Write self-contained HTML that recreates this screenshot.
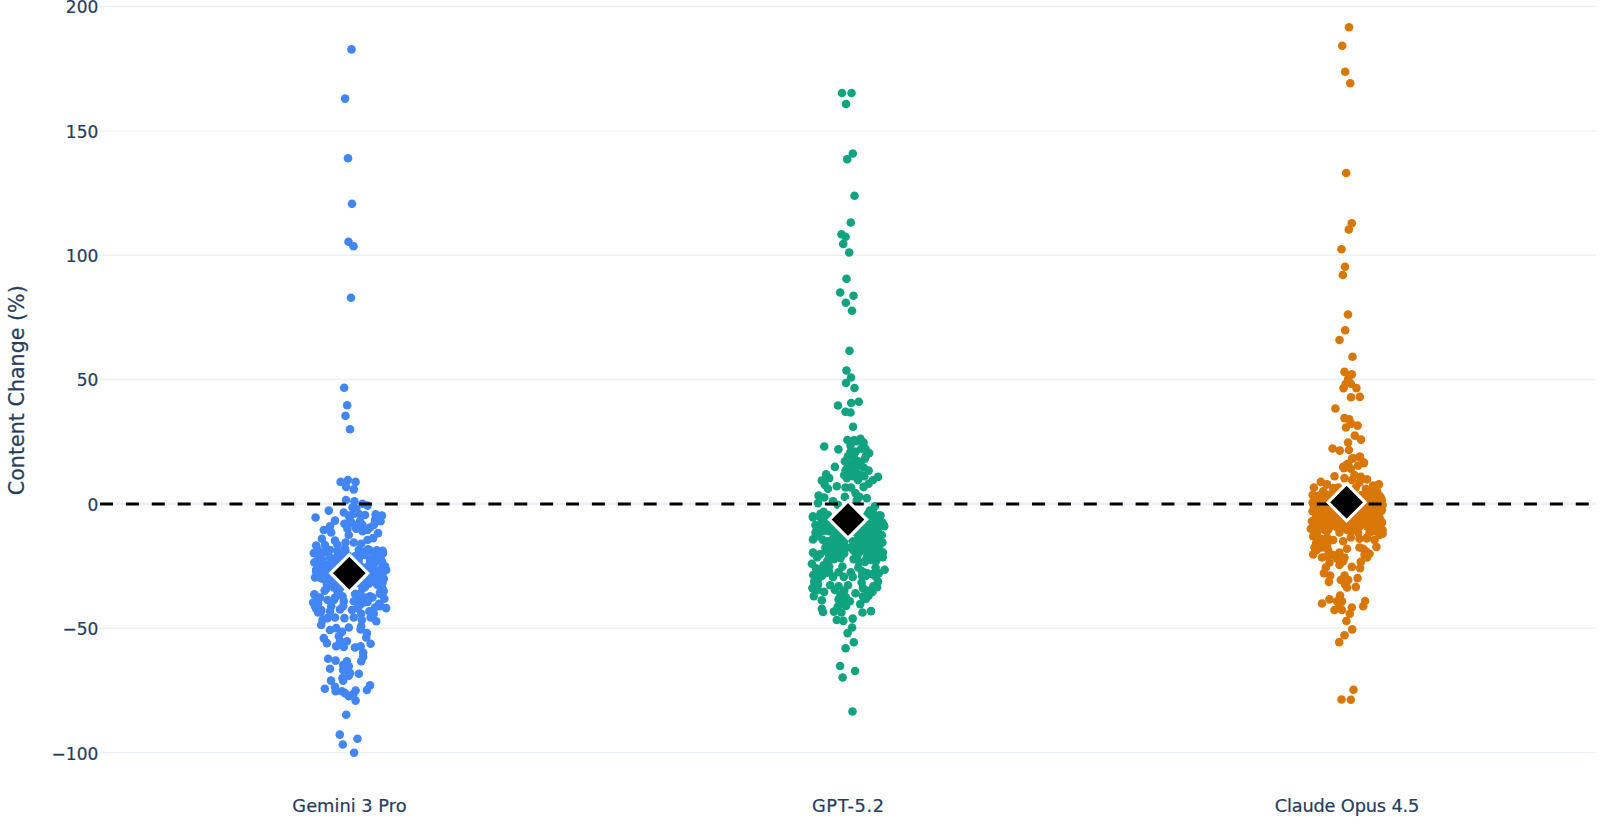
<!DOCTYPE html>
<html><head><meta charset="utf-8"><title>Content Change (%)</title>
<style>
html,body{margin:0;padding:0;background:#fff;}
body{width:1600px;height:825px;overflow:hidden;}
svg{display:block}
text{font-family:"DejaVu Sans","Liberation Sans",sans-serif;fill:#263c5f;stroke:#263c5f;stroke-width:0.2px;}
</style></head><body>
<svg width="1600" height="825" viewBox="0 0 1600 825">
<rect width="1600" height="825" fill="#fff"/>

<g stroke="#EBF0F8" stroke-width="1.45">
<line x1="100" x2="1596" y1="6.50" y2="6.50"/>
<line x1="100" x2="1596" y1="130.85" y2="130.85"/>
<line x1="100" x2="1596" y1="255.20" y2="255.20"/>
<line x1="100" x2="1596" y1="379.55" y2="379.55"/>
<line x1="100" x2="1596" y1="628.25" y2="628.25"/>
<line x1="100" x2="1596" y1="752.60" y2="752.60"/>
</g>
<line x1="100" x2="1596" y1="503.90" y2="503.90" stroke="#EBF0F8" stroke-width="2.9"/>
<g fill="#4285F4">
<circle cx="351.5" cy="49.4" r="4.3"/>
<circle cx="345.1" cy="98.6" r="4.3"/>
<circle cx="348.0" cy="158.3" r="4.3"/>
<circle cx="352.0" cy="203.8" r="4.3"/>
<circle cx="348.5" cy="241.8" r="4.3"/>
<circle cx="353.5" cy="246.2" r="4.3"/>
<circle cx="351.0" cy="297.8" r="4.3"/>
<circle cx="344.2" cy="387.8" r="4.3"/>
<circle cx="347.2" cy="405.2" r="4.3"/>
<circle cx="345.5" cy="415.8" r="4.3"/>
<circle cx="350.0" cy="429.2" r="4.3"/>
<circle cx="340.6" cy="481.9" r="4.3"/>
<circle cx="347.9" cy="480.0" r="4.3"/>
<circle cx="355.6" cy="481.9" r="4.3"/>
<circle cx="346.2" cy="486.9" r="4.3"/>
<circle cx="353.8" cy="489.4" r="4.3"/>
<circle cx="346.0" cy="500.0" r="4.3"/>
<circle cx="354.4" cy="501.2" r="4.3"/>
<circle cx="362.5" cy="503.8" r="4.3"/>
<circle cx="367.5" cy="505.6" r="4.3"/>
<circle cx="328.8" cy="510.6" r="4.3"/>
<circle cx="315.6" cy="517.5" r="4.3"/>
<circle cx="335.0" cy="520.6" r="4.3"/>
<circle cx="343.8" cy="512.5" r="4.3"/>
<circle cx="348.8" cy="515.6" r="4.3"/>
<circle cx="356.2" cy="508.8" r="4.3"/>
<circle cx="358.8" cy="513.8" r="4.3"/>
<circle cx="365.0" cy="515.0" r="4.3"/>
<circle cx="375.6" cy="514.4" r="4.3"/>
<circle cx="381.9" cy="515.6" r="4.3"/>
<circle cx="380.6" cy="521.2" r="4.3"/>
<circle cx="375.0" cy="520.0" r="4.3"/>
<circle cx="344.4" cy="523.8" r="4.3"/>
<circle cx="351.2" cy="522.5" r="4.3"/>
<circle cx="360.0" cy="521.2" r="4.3"/>
<circle cx="330.0" cy="526.2" r="4.3"/>
<circle cx="323.8" cy="530.0" r="4.3"/>
<circle cx="331.2" cy="532.5" r="4.3"/>
<circle cx="347.5" cy="528.8" r="4.3"/>
<circle cx="348.8" cy="535.0" r="4.3"/>
<circle cx="356.2" cy="528.8" r="4.3"/>
<circle cx="362.5" cy="531.2" r="4.3"/>
<circle cx="370.0" cy="527.5" r="4.3"/>
<circle cx="378.1" cy="533.1" r="4.3"/>
<circle cx="373.8" cy="525.0" r="4.3"/>
<circle cx="321.9" cy="538.8" r="4.3"/>
<circle cx="335.0" cy="540.6" r="4.3"/>
<circle cx="345.6" cy="542.5" r="4.3"/>
<circle cx="353.8" cy="542.5" r="4.3"/>
<circle cx="373.1" cy="538.1" r="4.3"/>
<circle cx="367.5" cy="540.0" r="4.3"/>
<circle cx="361.2" cy="543.8" r="4.3"/>
<circle cx="316.2" cy="545.6" r="4.3"/>
<circle cx="325.0" cy="545.0" r="4.3"/>
<circle cx="318.1" cy="550.0" r="4.3"/>
<circle cx="313.8" cy="553.1" r="4.3"/>
<circle cx="330.0" cy="550.0" r="4.3"/>
<circle cx="337.5" cy="551.2" r="4.3"/>
<circle cx="345.0" cy="548.8" r="4.3"/>
<circle cx="358.8" cy="550.0" r="4.3"/>
<circle cx="368.1" cy="549.4" r="4.3"/>
<circle cx="383.1" cy="553.1" r="4.3"/>
<circle cx="376.2" cy="555.0" r="4.3"/>
<circle cx="360.0" cy="556.2" r="4.3"/>
<circle cx="314.4" cy="562.5" r="4.3"/>
<circle cx="322.5" cy="560.0" r="4.3"/>
<circle cx="330.0" cy="557.5" r="4.3"/>
<circle cx="320.0" cy="567.5" r="4.3"/>
<circle cx="327.5" cy="565.0" r="4.3"/>
<circle cx="335.0" cy="561.2" r="4.3"/>
<circle cx="370.0" cy="560.0" r="4.3"/>
<circle cx="381.2" cy="560.0" r="4.3"/>
<circle cx="385.0" cy="566.2" r="4.3"/>
<circle cx="372.5" cy="568.8" r="4.3"/>
<circle cx="380.0" cy="570.0" r="4.3"/>
<circle cx="316.2" cy="570.0" r="4.3"/>
<circle cx="352.5" cy="507.5" r="4.3"/>
<circle cx="350.0" cy="520.0" r="4.3"/>
<circle cx="355.0" cy="525.0" r="4.3"/>
<circle cx="362.5" cy="525.0" r="4.3"/>
<circle cx="367.5" cy="530.0" r="4.3"/>
<circle cx="353.8" cy="513.8" r="4.3"/>
<circle cx="323.8" cy="552.5" r="4.3"/>
<circle cx="320.0" cy="557.5" r="4.3"/>
<circle cx="325.0" cy="570.0" r="4.3"/>
<circle cx="332.5" cy="567.5" r="4.3"/>
<circle cx="337.5" cy="557.5" r="4.3"/>
<circle cx="340.0" cy="562.5" r="4.3"/>
<circle cx="375.0" cy="562.5" r="4.3"/>
<circle cx="386.2" cy="570.0" r="4.3"/>
<circle cx="337.5" cy="545.0" r="4.3"/>
<circle cx="365.0" cy="555.0" r="4.3"/>
<circle cx="315.0" cy="562.5" r="4.3"/>
<circle cx="322.5" cy="563.8" r="4.3"/>
<circle cx="316.2" cy="570.0" r="4.3"/>
<circle cx="323.8" cy="571.2" r="4.3"/>
<circle cx="315.0" cy="577.5" r="4.3"/>
<circle cx="322.5" cy="578.8" r="4.3"/>
<circle cx="328.8" cy="576.2" r="4.3"/>
<circle cx="326.9" cy="583.8" r="4.3"/>
<circle cx="326.2" cy="588.8" r="4.3"/>
<circle cx="333.8" cy="587.5" r="4.3"/>
<circle cx="337.5" cy="591.2" r="4.3"/>
<circle cx="330.0" cy="567.5" r="4.3"/>
<circle cx="331.2" cy="582.5" r="4.3"/>
<circle cx="370.0" cy="562.5" r="4.3"/>
<circle cx="382.5" cy="563.8" r="4.3"/>
<circle cx="384.4" cy="567.5" r="4.3"/>
<circle cx="375.0" cy="570.0" r="4.3"/>
<circle cx="382.5" cy="573.8" r="4.3"/>
<circle cx="383.8" cy="578.8" r="4.3"/>
<circle cx="375.0" cy="578.8" r="4.3"/>
<circle cx="368.8" cy="583.8" r="4.3"/>
<circle cx="377.5" cy="585.0" r="4.3"/>
<circle cx="382.5" cy="588.8" r="4.3"/>
<circle cx="365.0" cy="586.9" r="4.3"/>
<circle cx="380.0" cy="592.5" r="4.3"/>
<circle cx="370.0" cy="596.2" r="4.3"/>
<circle cx="368.8" cy="575.0" r="4.3"/>
<circle cx="362.5" cy="583.8" r="4.3"/>
<circle cx="314.4" cy="594.4" r="4.3"/>
<circle cx="320.0" cy="597.5" r="4.3"/>
<circle cx="313.1" cy="602.5" r="4.3"/>
<circle cx="318.1" cy="603.8" r="4.3"/>
<circle cx="327.5" cy="600.0" r="4.3"/>
<circle cx="335.0" cy="597.5" r="4.3"/>
<circle cx="342.5" cy="596.2" r="4.3"/>
<circle cx="343.8" cy="601.2" r="4.3"/>
<circle cx="355.0" cy="593.8" r="4.3"/>
<circle cx="357.5" cy="598.8" r="4.3"/>
<circle cx="353.8" cy="601.2" r="4.3"/>
<circle cx="365.0" cy="597.5" r="4.3"/>
<circle cx="372.5" cy="597.5" r="4.3"/>
<circle cx="380.0" cy="593.8" r="4.3"/>
<circle cx="384.4" cy="598.8" r="4.3"/>
<circle cx="383.8" cy="591.2" r="4.3"/>
<circle cx="316.2" cy="608.8" r="4.3"/>
<circle cx="321.2" cy="610.0" r="4.3"/>
<circle cx="318.1" cy="612.5" r="4.3"/>
<circle cx="331.2" cy="606.2" r="4.3"/>
<circle cx="330.0" cy="611.2" r="4.3"/>
<circle cx="340.0" cy="609.4" r="4.3"/>
<circle cx="343.1" cy="606.2" r="4.3"/>
<circle cx="351.9" cy="610.0" r="4.3"/>
<circle cx="360.0" cy="605.0" r="4.3"/>
<circle cx="361.2" cy="613.8" r="4.3"/>
<circle cx="369.4" cy="611.2" r="4.3"/>
<circle cx="375.0" cy="607.5" r="4.3"/>
<circle cx="380.6" cy="606.2" r="4.3"/>
<circle cx="386.2" cy="608.1" r="4.3"/>
<circle cx="373.8" cy="613.8" r="4.3"/>
<circle cx="322.5" cy="620.0" r="4.3"/>
<circle cx="327.5" cy="618.1" r="4.3"/>
<circle cx="335.0" cy="617.5" r="4.3"/>
<circle cx="344.4" cy="618.1" r="4.3"/>
<circle cx="353.8" cy="617.5" r="4.3"/>
<circle cx="361.9" cy="620.0" r="4.3"/>
<circle cx="370.6" cy="617.5" r="4.3"/>
<circle cx="376.2" cy="621.2" r="4.3"/>
<circle cx="321.2" cy="625.0" r="4.3"/>
<circle cx="361.2" cy="626.2" r="4.3"/>
<circle cx="330.0" cy="630.0" r="4.3"/>
<circle cx="336.2" cy="628.1" r="4.3"/>
<circle cx="341.9" cy="631.9" r="4.3"/>
<circle cx="348.8" cy="627.5" r="4.3"/>
<circle cx="360.6" cy="629.4" r="4.3"/>
<circle cx="366.9" cy="633.1" r="4.3"/>
<circle cx="338.8" cy="636.2" r="4.3"/>
<circle cx="366.2" cy="637.5" r="4.3"/>
<circle cx="323.8" cy="638.1" r="4.3"/>
<circle cx="326.9" cy="643.1" r="4.3"/>
<circle cx="340.0" cy="641.2" r="4.3"/>
<circle cx="346.9" cy="641.2" r="4.3"/>
<circle cx="336.2" cy="646.2" r="4.3"/>
<circle cx="343.8" cy="646.9" r="4.3"/>
<circle cx="370.6" cy="643.8" r="4.3"/>
<circle cx="355.0" cy="647.5" r="4.3"/>
<circle cx="360.6" cy="646.2" r="4.3"/>
<circle cx="363.1" cy="652.5" r="4.3"/>
<circle cx="336.2" cy="582.5" r="4.3"/>
<circle cx="340.0" cy="587.5" r="4.3"/>
<circle cx="332.5" cy="576.2" r="4.3"/>
<circle cx="362.5" cy="588.8" r="4.3"/>
<circle cx="370.0" cy="578.8" r="4.3"/>
<circle cx="376.2" cy="573.8" r="4.3"/>
<circle cx="360.0" cy="593.8" r="4.3"/>
<circle cx="363.8" cy="602.5" r="4.3"/>
<circle cx="357.5" cy="608.1" r="4.3"/>
<circle cx="367.5" cy="601.9" r="4.3"/>
<circle cx="328.1" cy="658.8" r="4.3"/>
<circle cx="335.6" cy="660.6" r="4.3"/>
<circle cx="346.9" cy="661.2" r="4.3"/>
<circle cx="343.1" cy="665.0" r="4.3"/>
<circle cx="348.8" cy="666.2" r="4.3"/>
<circle cx="361.2" cy="661.2" r="4.3"/>
<circle cx="363.1" cy="656.9" r="4.3"/>
<circle cx="330.0" cy="668.8" r="4.3"/>
<circle cx="343.1" cy="670.0" r="4.3"/>
<circle cx="350.0" cy="673.1" r="4.3"/>
<circle cx="358.8" cy="673.8" r="4.3"/>
<circle cx="342.5" cy="678.1" r="4.3"/>
<circle cx="343.1" cy="680.6" r="4.3"/>
<circle cx="348.8" cy="675.6" r="4.3"/>
<circle cx="331.0" cy="680.6" r="4.3"/>
<circle cx="324.8" cy="688.8" r="4.3"/>
<circle cx="335.0" cy="686.9" r="4.3"/>
<circle cx="335.6" cy="691.2" r="4.3"/>
<circle cx="341.9" cy="691.2" r="4.3"/>
<circle cx="345.0" cy="693.1" r="4.3"/>
<circle cx="348.8" cy="696.2" r="4.3"/>
<circle cx="355.6" cy="690.6" r="4.3"/>
<circle cx="353.1" cy="694.4" r="4.3"/>
<circle cx="355.6" cy="700.6" r="4.3"/>
<circle cx="366.9" cy="690.0" r="4.3"/>
<circle cx="370.0" cy="685.4" r="4.3"/>
<circle cx="346.2" cy="714.8" r="4.3"/>
<circle cx="339.8" cy="734.6" r="4.3"/>
<circle cx="357.5" cy="738.8" r="4.3"/>
<circle cx="342.8" cy="744.5" r="4.3"/>
<circle cx="354.1" cy="752.8" r="4.3"/>
<circle cx="318.1" cy="600.0" r="4.3"/>
<circle cx="315.2" cy="606.6" r="4.3"/>
<circle cx="320.9" cy="612.2" r="4.3"/>
<circle cx="334.0" cy="600.0" r="4.3"/>
<circle cx="339.6" cy="588.8" r="4.3"/>
<circle cx="324.6" cy="590.6" r="4.3"/>
<circle cx="381.8" cy="594.4" r="4.3"/>
<circle cx="379.0" cy="603.8" r="4.3"/>
<circle cx="328.1" cy="550.8" r="4.3"/>
<circle cx="345.3" cy="550.3" r="4.3"/>
<circle cx="364.2" cy="551.7" r="4.3"/>
<circle cx="370.1" cy="550.8" r="4.3"/>
<circle cx="376.8" cy="550.3" r="4.3"/>
<circle cx="382.6" cy="550.7" r="4.3"/>
<circle cx="318.4" cy="555.6" r="4.3"/>
<circle cx="337.2" cy="556.0" r="4.3"/>
<circle cx="343.1" cy="555.5" r="4.3"/>
<circle cx="348.3" cy="555.7" r="4.3"/>
<circle cx="355.3" cy="556.1" r="4.3"/>
<circle cx="373.5" cy="556.5" r="4.3"/>
<circle cx="378.6" cy="556.3" r="4.3"/>
<circle cx="316.0" cy="562.0" r="4.3"/>
<circle cx="333.9" cy="561.8" r="4.3"/>
<circle cx="339.4" cy="561.4" r="4.3"/>
<circle cx="345.3" cy="561.7" r="4.3"/>
<circle cx="352.4" cy="561.5" r="4.3"/>
<circle cx="358.6" cy="561.1" r="4.3"/>
<circle cx="382.0" cy="561.7" r="4.3"/>
<circle cx="318.3" cy="566.9" r="4.3"/>
<circle cx="325.2" cy="567.4" r="4.3"/>
<circle cx="331.5" cy="566.2" r="4.3"/>
<circle cx="336.8" cy="566.9" r="4.3"/>
<circle cx="342.2" cy="566.5" r="4.3"/>
<circle cx="348.5" cy="566.0" r="4.3"/>
<circle cx="354.3" cy="567.0" r="4.3"/>
<circle cx="360.4" cy="566.2" r="4.3"/>
<circle cx="366.8" cy="567.2" r="4.3"/>
<circle cx="316.5" cy="572.4" r="4.3"/>
<circle cx="321.6" cy="571.6" r="4.3"/>
<circle cx="327.8" cy="572.4" r="4.3"/>
<circle cx="334.7" cy="571.2" r="4.3"/>
<circle cx="339.5" cy="571.4" r="4.3"/>
<circle cx="345.6" cy="571.8" r="4.3"/>
<circle cx="352.1" cy="571.4" r="4.3"/>
<circle cx="357.2" cy="571.7" r="4.3"/>
<circle cx="363.8" cy="571.9" r="4.3"/>
<circle cx="370.7" cy="572.1" r="4.3"/>
<circle cx="376.0" cy="572.0" r="4.3"/>
<circle cx="382.3" cy="571.1" r="4.3"/>
<circle cx="319.6" cy="577.4" r="4.3"/>
<circle cx="325.6" cy="577.5" r="4.3"/>
<circle cx="330.8" cy="576.8" r="4.3"/>
<circle cx="336.4" cy="577.2" r="4.3"/>
<circle cx="342.3" cy="576.3" r="4.3"/>
<circle cx="348.5" cy="576.4" r="4.3"/>
<circle cx="354.7" cy="576.3" r="4.3"/>
<circle cx="360.2" cy="576.4" r="4.3"/>
<circle cx="366.4" cy="576.8" r="4.3"/>
<circle cx="372.2" cy="577.6" r="4.3"/>
<circle cx="379.2" cy="576.4" r="4.3"/>
<circle cx="328.6" cy="583.0" r="4.3"/>
<circle cx="333.9" cy="582.2" r="4.3"/>
<circle cx="339.3" cy="581.5" r="4.3"/>
<circle cx="345.7" cy="581.8" r="4.3"/>
<circle cx="352.5" cy="581.6" r="4.3"/>
<circle cx="357.2" cy="582.9" r="4.3"/>
<circle cx="364.0" cy="581.6" r="4.3"/>
<circle cx="370.1" cy="581.4" r="4.3"/>
<circle cx="376.0" cy="582.9" r="4.3"/>
<circle cx="382.6" cy="582.5" r="4.3"/>
</g>
<g fill="#10A37F">
<circle cx="842.0" cy="93.0" r="4.3"/>
<circle cx="851.5" cy="93.0" r="4.3"/>
<circle cx="846.0" cy="104.0" r="4.3"/>
<circle cx="852.8" cy="153.5" r="4.3"/>
<circle cx="847.2" cy="159.2" r="4.3"/>
<circle cx="854.5" cy="195.8" r="4.3"/>
<circle cx="850.8" cy="222.5" r="4.3"/>
<circle cx="841.5" cy="234.2" r="4.3"/>
<circle cx="845.5" cy="236.8" r="4.3"/>
<circle cx="843.2" cy="244.0" r="4.3"/>
<circle cx="849.2" cy="252.5" r="4.3"/>
<circle cx="846.5" cy="278.8" r="4.3"/>
<circle cx="840.2" cy="292.5" r="4.3"/>
<circle cx="853.5" cy="295.8" r="4.3"/>
<circle cx="845.8" cy="302.8" r="4.3"/>
<circle cx="852.0" cy="310.8" r="4.3"/>
<circle cx="849.5" cy="350.8" r="4.3"/>
<circle cx="846.5" cy="370.5" r="4.3"/>
<circle cx="851.0" cy="377.5" r="4.3"/>
<circle cx="846.0" cy="383.0" r="4.3"/>
<circle cx="854.5" cy="388.0" r="4.3"/>
<circle cx="838.0" cy="405.5" r="4.3"/>
<circle cx="851.2" cy="403.0" r="4.3"/>
<circle cx="858.8" cy="401.8" r="4.3"/>
<circle cx="845.5" cy="411.8" r="4.3"/>
<circle cx="850.5" cy="412.5" r="4.3"/>
<circle cx="853.0" cy="426.8" r="4.3"/>
<circle cx="847.4" cy="440.0" r="4.3"/>
<circle cx="854.2" cy="440.0" r="4.3"/>
<circle cx="860.5" cy="438.8" r="4.3"/>
<circle cx="863.6" cy="442.5" r="4.3"/>
<circle cx="824.2" cy="446.5" r="4.3"/>
<circle cx="838.4" cy="449.4" r="4.3"/>
<circle cx="850.5" cy="445.6" r="4.3"/>
<circle cx="861.1" cy="448.8" r="4.3"/>
<circle cx="865.5" cy="448.8" r="4.3"/>
<circle cx="869.2" cy="453.1" r="4.3"/>
<circle cx="850.5" cy="451.9" r="4.3"/>
<circle cx="848.0" cy="456.2" r="4.3"/>
<circle cx="854.2" cy="458.1" r="4.3"/>
<circle cx="864.9" cy="458.8" r="4.3"/>
<circle cx="844.9" cy="461.2" r="4.3"/>
<circle cx="851.8" cy="463.8" r="4.3"/>
<circle cx="834.9" cy="466.9" r="4.3"/>
<circle cx="856.8" cy="466.2" r="4.3"/>
<circle cx="863.6" cy="467.5" r="4.3"/>
<circle cx="868.6" cy="470.6" r="4.3"/>
<circle cx="845.5" cy="470.6" r="4.3"/>
<circle cx="860.5" cy="475.0" r="4.3"/>
<circle cx="846.8" cy="478.1" r="4.3"/>
<circle cx="853.0" cy="476.2" r="4.3"/>
<circle cx="826.1" cy="474.4" r="4.3"/>
<circle cx="829.2" cy="478.1" r="4.3"/>
<circle cx="821.8" cy="480.6" r="4.3"/>
<circle cx="824.9" cy="485.0" r="4.3"/>
<circle cx="828.0" cy="488.8" r="4.3"/>
<circle cx="836.8" cy="486.2" r="4.3"/>
<circle cx="845.5" cy="487.5" r="4.3"/>
<circle cx="851.1" cy="487.5" r="4.3"/>
<circle cx="878.0" cy="476.9" r="4.3"/>
<circle cx="873.0" cy="480.0" r="4.3"/>
<circle cx="868.6" cy="483.8" r="4.3"/>
<circle cx="863.6" cy="486.9" r="4.3"/>
<circle cx="818.6" cy="495.6" r="4.3"/>
<circle cx="824.2" cy="497.5" r="4.3"/>
<circle cx="818.0" cy="503.1" r="4.3"/>
<circle cx="833.0" cy="501.2" r="4.3"/>
<circle cx="844.9" cy="496.9" r="4.3"/>
<circle cx="855.5" cy="493.1" r="4.3"/>
<circle cx="859.2" cy="496.9" r="4.3"/>
<circle cx="866.8" cy="498.1" r="4.3"/>
<circle cx="856.8" cy="500.0" r="4.3"/>
<circle cx="838.0" cy="505.0" r="4.3"/>
<circle cx="874.9" cy="506.2" r="4.3"/>
<circle cx="869.9" cy="510.6" r="4.3"/>
<circle cx="880.5" cy="515.6" r="4.3"/>
<circle cx="878.0" cy="520.0" r="4.3"/>
<circle cx="873.0" cy="517.5" r="4.3"/>
<circle cx="868.6" cy="523.8" r="4.3"/>
<circle cx="883.6" cy="525.0" r="4.3"/>
<circle cx="823.6" cy="511.9" r="4.3"/>
<circle cx="813.0" cy="517.5" r="4.3"/>
<circle cx="820.5" cy="517.5" r="4.3"/>
<circle cx="828.0" cy="515.0" r="4.3"/>
<circle cx="815.5" cy="525.0" r="4.3"/>
<circle cx="823.0" cy="523.8" r="4.3"/>
<circle cx="829.2" cy="525.0" r="4.3"/>
<circle cx="855.5" cy="451.9" r="4.3"/>
<circle cx="858.0" cy="461.2" r="4.3"/>
<circle cx="860.5" cy="463.1" r="4.3"/>
<circle cx="853.0" cy="468.1" r="4.3"/>
<circle cx="849.2" cy="473.1" r="4.3"/>
<circle cx="864.2" cy="476.2" r="4.3"/>
<circle cx="858.0" cy="480.0" r="4.3"/>
<circle cx="856.8" cy="441.2" r="4.3"/>
<circle cx="866.1" cy="455.6" r="4.3"/>
<circle cx="848.0" cy="466.2" r="4.3"/>
<circle cx="844.2" cy="475.0" r="4.3"/>
<circle cx="856.8" cy="473.1" r="4.3"/>
<circle cx="813.0" cy="516.2" r="4.3"/>
<circle cx="820.5" cy="513.8" r="4.3"/>
<circle cx="825.5" cy="517.5" r="4.3"/>
<circle cx="873.0" cy="512.5" r="4.3"/>
<circle cx="879.2" cy="515.6" r="4.3"/>
<circle cx="868.0" cy="513.8" r="4.3"/>
<circle cx="816.1" cy="526.2" r="4.3"/>
<circle cx="821.8" cy="522.5" r="4.3"/>
<circle cx="828.0" cy="526.2" r="4.3"/>
<circle cx="875.5" cy="520.0" r="4.3"/>
<circle cx="882.4" cy="522.5" r="4.3"/>
<circle cx="884.2" cy="526.2" r="4.3"/>
<circle cx="873.0" cy="526.2" r="4.3"/>
<circle cx="868.0" cy="528.8" r="4.3"/>
<circle cx="815.5" cy="532.5" r="4.3"/>
<circle cx="823.0" cy="531.2" r="4.3"/>
<circle cx="829.2" cy="531.2" r="4.3"/>
<circle cx="834.2" cy="532.5" r="4.3"/>
<circle cx="866.8" cy="535.0" r="4.3"/>
<circle cx="874.2" cy="533.8" r="4.3"/>
<circle cx="881.8" cy="535.0" r="4.3"/>
<circle cx="860.5" cy="537.5" r="4.3"/>
<circle cx="813.0" cy="539.4" r="4.3"/>
<circle cx="823.0" cy="540.0" r="4.3"/>
<circle cx="828.0" cy="541.2" r="4.3"/>
<circle cx="834.2" cy="540.0" r="4.3"/>
<circle cx="840.5" cy="541.2" r="4.3"/>
<circle cx="860.5" cy="542.5" r="4.3"/>
<circle cx="868.0" cy="541.2" r="4.3"/>
<circle cx="875.5" cy="540.0" r="4.3"/>
<circle cx="882.4" cy="542.5" r="4.3"/>
<circle cx="854.2" cy="542.5" r="4.3"/>
<circle cx="825.5" cy="547.5" r="4.3"/>
<circle cx="833.0" cy="547.5" r="4.3"/>
<circle cx="840.5" cy="548.8" r="4.3"/>
<circle cx="846.8" cy="547.5" r="4.3"/>
<circle cx="853.0" cy="550.0" r="4.3"/>
<circle cx="864.2" cy="547.5" r="4.3"/>
<circle cx="871.8" cy="547.5" r="4.3"/>
<circle cx="879.2" cy="546.2" r="4.3"/>
<circle cx="883.0" cy="552.5" r="4.3"/>
<circle cx="813.0" cy="552.5" r="4.3"/>
<circle cx="828.0" cy="552.5" r="4.3"/>
<circle cx="843.0" cy="552.5" r="4.3"/>
<circle cx="818.0" cy="536.2" r="4.3"/>
<circle cx="860.5" cy="551.2" r="4.3"/>
<circle cx="858.0" cy="547.5" r="4.3"/>
<circle cx="878.0" cy="528.8" r="4.3"/>
<circle cx="829.2" cy="521.2" r="4.3"/>
<circle cx="834.2" cy="526.2" r="4.3"/>
<circle cx="839.2" cy="535.0" r="4.3"/>
<circle cx="844.2" cy="541.2" r="4.3"/>
<circle cx="853.0" cy="541.2" r="4.3"/>
<circle cx="858.0" cy="535.0" r="4.3"/>
<circle cx="863.0" cy="530.0" r="4.3"/>
<circle cx="866.8" cy="522.5" r="4.3"/>
<circle cx="864.2" cy="517.5" r="4.3"/>
<circle cx="869.2" cy="551.2" r="4.3"/>
<circle cx="879.2" cy="550.0" r="4.3"/>
<circle cx="873.0" cy="541.2" r="4.3"/>
<circle cx="852.1" cy="627.5" r="4.3"/>
<circle cx="847.6" cy="633.1" r="4.3"/>
<circle cx="853.8" cy="642.2" r="4.3"/>
<circle cx="845.6" cy="648.2" r="4.3"/>
<circle cx="840.1" cy="666.0" r="4.3"/>
<circle cx="855.1" cy="671.0" r="4.3"/>
<circle cx="842.6" cy="677.5" r="4.3"/>
<circle cx="852.5" cy="711.5" r="4.3"/>
<circle cx="813.3" cy="553.0" r="4.3"/>
<circle cx="817.1" cy="557.2" r="4.3"/>
<circle cx="811.9" cy="563.8" r="4.3"/>
<circle cx="816.1" cy="568.4" r="4.3"/>
<circle cx="813.3" cy="575.0" r="4.3"/>
<circle cx="818.9" cy="577.8" r="4.3"/>
<circle cx="816.1" cy="582.5" r="4.3"/>
<circle cx="812.4" cy="588.1" r="4.3"/>
<circle cx="818.0" cy="590.0" r="4.3"/>
<circle cx="813.8" cy="596.1" r="4.3"/>
<circle cx="821.8" cy="600.3" r="4.3"/>
<circle cx="824.1" cy="591.9" r="4.3"/>
<circle cx="821.8" cy="608.8" r="4.3"/>
<circle cx="823.1" cy="612.0" r="4.3"/>
<circle cx="825.5" cy="550.6" r="4.3"/>
<circle cx="831.1" cy="548.8" r="4.3"/>
<circle cx="838.6" cy="549.7" r="4.3"/>
<circle cx="844.2" cy="553.4" r="4.3"/>
<circle cx="840.5" cy="558.1" r="4.3"/>
<circle cx="833.9" cy="559.1" r="4.3"/>
<circle cx="827.4" cy="560.9" r="4.3"/>
<circle cx="829.2" cy="566.6" r="4.3"/>
<circle cx="825.5" cy="573.1" r="4.3"/>
<circle cx="833.0" cy="576.9" r="4.3"/>
<circle cx="842.4" cy="566.6" r="4.3"/>
<circle cx="838.6" cy="572.2" r="4.3"/>
<circle cx="843.8" cy="576.9" r="4.3"/>
<circle cx="850.8" cy="572.2" r="4.3"/>
<circle cx="852.7" cy="576.9" r="4.3"/>
<circle cx="853.6" cy="559.1" r="4.3"/>
<circle cx="859.2" cy="561.9" r="4.3"/>
<circle cx="860.2" cy="550.6" r="4.3"/>
<circle cx="866.8" cy="557.2" r="4.3"/>
<circle cx="872.4" cy="554.4" r="4.3"/>
<circle cx="878.9" cy="550.6" r="4.3"/>
<circle cx="882.7" cy="557.2" r="4.3"/>
<circle cx="876.1" cy="560.9" r="4.3"/>
<circle cx="858.3" cy="567.5" r="4.3"/>
<circle cx="875.6" cy="567.5" r="4.3"/>
<circle cx="884.6" cy="569.8" r="4.3"/>
<circle cx="878.9" cy="573.1" r="4.3"/>
<circle cx="872.4" cy="574.1" r="4.3"/>
<circle cx="866.8" cy="573.1" r="4.3"/>
<circle cx="862.1" cy="575.9" r="4.3"/>
<circle cx="861.6" cy="582.5" r="4.3"/>
<circle cx="878.0" cy="581.6" r="4.3"/>
<circle cx="873.3" cy="586.2" r="4.3"/>
<circle cx="863.0" cy="588.1" r="4.3"/>
<circle cx="867.7" cy="590.9" r="4.3"/>
<circle cx="872.4" cy="591.9" r="4.3"/>
<circle cx="863.0" cy="596.6" r="4.3"/>
<circle cx="868.6" cy="595.6" r="4.3"/>
<circle cx="830.2" cy="585.3" r="4.3"/>
<circle cx="838.6" cy="586.2" r="4.3"/>
<circle cx="848.0" cy="585.3" r="4.3"/>
<circle cx="834.9" cy="590.0" r="4.3"/>
<circle cx="844.2" cy="590.9" r="4.3"/>
<circle cx="840.5" cy="594.7" r="4.3"/>
<circle cx="838.6" cy="599.4" r="4.3"/>
<circle cx="846.1" cy="597.5" r="4.3"/>
<circle cx="849.9" cy="601.2" r="4.3"/>
<circle cx="842.4" cy="603.1" r="4.3"/>
<circle cx="837.7" cy="606.9" r="4.3"/>
<circle cx="846.1" cy="605.9" r="4.3"/>
<circle cx="833.9" cy="611.6" r="4.3"/>
<circle cx="841.4" cy="612.5" r="4.3"/>
<circle cx="855.5" cy="593.3" r="4.3"/>
<circle cx="860.2" cy="604.1" r="4.3"/>
<circle cx="862.5" cy="612.5" r="4.3"/>
<circle cx="871.0" cy="611.1" r="4.3"/>
<circle cx="852.7" cy="618.6" r="4.3"/>
<circle cx="836.8" cy="620.0" r="4.3"/>
<circle cx="843.3" cy="620.9" r="4.3"/>
<circle cx="819.9" cy="554.4" r="4.3"/>
<circle cx="819.9" cy="570.3" r="4.3"/>
<circle cx="821.8" cy="575.9" r="4.3"/>
<circle cx="829.2" cy="572.2" r="4.3"/>
<circle cx="818.0" cy="584.4" r="4.3"/>
<circle cx="814.2" cy="581.6" r="4.3"/>
<circle cx="834.9" cy="554.4" r="4.3"/>
<circle cx="829.2" cy="555.3" r="4.3"/>
<circle cx="823.6" cy="565.2" r="4.3"/>
<circle cx="834.9" cy="546.9" r="4.3"/>
<circle cx="842.4" cy="547.8" r="4.3"/>
<circle cx="837.7" cy="554.4" r="4.3"/>
<circle cx="855.5" cy="552.5" r="4.3"/>
<circle cx="866.8" cy="550.6" r="4.3"/>
<circle cx="875.2" cy="548.8" r="4.3"/>
<circle cx="878.0" cy="556.2" r="4.3"/>
<circle cx="871.4" cy="560.0" r="4.3"/>
<circle cx="864.9" cy="561.9" r="4.3"/>
<circle cx="857.4" cy="555.3" r="4.3"/>
<circle cx="862.1" cy="571.2" r="4.3"/>
<circle cx="865.8" cy="575.9" r="4.3"/>
<circle cx="865.8" cy="598.9" r="4.3"/>
<circle cx="876.1" cy="576.9" r="4.3"/>
<circle cx="877.1" cy="587.2" r="4.3"/>
<circle cx="821.6" cy="526.8" r="4.3"/>
<circle cx="827.5" cy="527.4" r="4.3"/>
<circle cx="834.1" cy="527.4" r="4.3"/>
<circle cx="839.7" cy="526.6" r="4.3"/>
<circle cx="846.5" cy="527.8" r="4.3"/>
<circle cx="852.6" cy="527.5" r="4.3"/>
<circle cx="858.5" cy="527.4" r="4.3"/>
<circle cx="863.6" cy="527.0" r="4.3"/>
<circle cx="869.8" cy="526.2" r="4.3"/>
<circle cx="875.2" cy="526.6" r="4.3"/>
<circle cx="837.7" cy="533.0" r="4.3"/>
<circle cx="843.7" cy="532.0" r="4.3"/>
<circle cx="848.6" cy="531.8" r="4.3"/>
<circle cx="854.5" cy="531.7" r="4.3"/>
<circle cx="861.2" cy="532.8" r="4.3"/>
<circle cx="867.5" cy="532.2" r="4.3"/>
<circle cx="873.2" cy="532.7" r="4.3"/>
<circle cx="878.3" cy="532.5" r="4.3"/>
<circle cx="833.5" cy="537.9" r="4.3"/>
<circle cx="839.7" cy="537.9" r="4.3"/>
<circle cx="846.8" cy="537.2" r="4.3"/>
<circle cx="863.4" cy="536.8" r="4.3"/>
<circle cx="870.6" cy="537.9" r="4.3"/>
<circle cx="875.4" cy="537.9" r="4.3"/>
<circle cx="830.8" cy="542.7" r="4.3"/>
<circle cx="836.4" cy="541.8" r="4.3"/>
<circle cx="861.5" cy="542.1" r="4.3"/>
<circle cx="866.6" cy="542.3" r="4.3"/>
<circle cx="872.6" cy="542.7" r="4.3"/>
<circle cx="878.6" cy="542.5" r="4.3"/>
<circle cx="834.1" cy="548.4" r="4.3"/>
<circle cx="852.0" cy="547.0" r="4.3"/>
<circle cx="876.4" cy="547.9" r="4.3"/>
</g>
<g fill="#D97706">
<circle cx="1349.0" cy="27.2" r="4.3"/>
<circle cx="1342.2" cy="45.8" r="4.3"/>
<circle cx="1345.2" cy="71.8" r="4.3"/>
<circle cx="1350.2" cy="83.2" r="4.3"/>
<circle cx="1346.2" cy="173.0" r="4.3"/>
<circle cx="1351.8" cy="223.2" r="4.3"/>
<circle cx="1348.8" cy="229.5" r="4.3"/>
<circle cx="1341.5" cy="249.2" r="4.3"/>
<circle cx="1345.0" cy="266.8" r="4.3"/>
<circle cx="1342.8" cy="275.0" r="4.3"/>
<circle cx="1348.0" cy="314.5" r="4.3"/>
<circle cx="1345.2" cy="330.2" r="4.3"/>
<circle cx="1339.5" cy="340.0" r="4.3"/>
<circle cx="1352.5" cy="356.8" r="4.3"/>
<circle cx="1344.5" cy="371.9" r="4.3"/>
<circle cx="1351.8" cy="374.4" r="4.3"/>
<circle cx="1348.2" cy="378.8" r="4.3"/>
<circle cx="1345.8" cy="383.8" r="4.3"/>
<circle cx="1350.8" cy="383.8" r="4.3"/>
<circle cx="1343.5" cy="388.1" r="4.3"/>
<circle cx="1356.4" cy="388.1" r="4.3"/>
<circle cx="1351.0" cy="397.2" r="4.3"/>
<circle cx="1359.8" cy="396.9" r="4.3"/>
<circle cx="1335.4" cy="408.5" r="4.3"/>
<circle cx="1344.5" cy="418.1" r="4.3"/>
<circle cx="1349.2" cy="419.4" r="4.3"/>
<circle cx="1351.4" cy="423.8" r="4.3"/>
<circle cx="1357.6" cy="425.6" r="4.3"/>
<circle cx="1346.0" cy="427.5" r="4.3"/>
<circle cx="1354.8" cy="435.6" r="4.3"/>
<circle cx="1361.0" cy="439.6" r="4.3"/>
<circle cx="1348.0" cy="442.5" r="4.3"/>
<circle cx="1332.6" cy="448.5" r="4.3"/>
<circle cx="1339.8" cy="450.6" r="4.3"/>
<circle cx="1348.9" cy="450.0" r="4.3"/>
<circle cx="1353.2" cy="458.1" r="4.3"/>
<circle cx="1360.1" cy="456.9" r="4.3"/>
<circle cx="1363.9" cy="463.1" r="4.3"/>
<circle cx="1348.2" cy="463.8" r="4.3"/>
<circle cx="1343.2" cy="466.9" r="4.3"/>
<circle cx="1352.0" cy="458.8" r="4.3"/>
<circle cx="1359.5" cy="456.9" r="4.3"/>
<circle cx="1363.9" cy="462.5" r="4.3"/>
<circle cx="1358.2" cy="465.6" r="4.3"/>
<circle cx="1347.0" cy="464.4" r="4.3"/>
<circle cx="1343.9" cy="468.1" r="4.3"/>
<circle cx="1350.8" cy="468.8" r="4.3"/>
<circle cx="1334.5" cy="476.2" r="4.3"/>
<circle cx="1344.5" cy="478.1" r="4.3"/>
<circle cx="1354.5" cy="475.0" r="4.3"/>
<circle cx="1360.8" cy="476.9" r="4.3"/>
<circle cx="1367.0" cy="479.4" r="4.3"/>
<circle cx="1378.9" cy="484.4" r="4.3"/>
<circle cx="1373.2" cy="485.6" r="4.3"/>
<circle cx="1352.0" cy="480.0" r="4.3"/>
<circle cx="1359.5" cy="482.5" r="4.3"/>
<circle cx="1320.8" cy="481.9" r="4.3"/>
<circle cx="1327.0" cy="484.4" r="4.3"/>
<circle cx="1313.9" cy="487.5" r="4.3"/>
<circle cx="1333.2" cy="488.1" r="4.3"/>
<circle cx="1313.2" cy="495.0" r="4.3"/>
<circle cx="1319.5" cy="497.5" r="4.3"/>
<circle cx="1327.0" cy="495.0" r="4.3"/>
<circle cx="1334.5" cy="492.5" r="4.3"/>
<circle cx="1369.5" cy="491.2" r="4.3"/>
<circle cx="1375.8" cy="496.2" r="4.3"/>
<circle cx="1380.8" cy="497.5" r="4.3"/>
<circle cx="1365.8" cy="488.8" r="4.3"/>
<circle cx="1312.6" cy="502.5" r="4.3"/>
<circle cx="1319.5" cy="503.8" r="4.3"/>
<circle cx="1325.8" cy="503.1" r="4.3"/>
<circle cx="1372.0" cy="502.5" r="4.3"/>
<circle cx="1378.2" cy="503.8" r="4.3"/>
<circle cx="1382.6" cy="505.0" r="4.3"/>
<circle cx="1312.6" cy="511.2" r="4.3"/>
<circle cx="1320.8" cy="510.0" r="4.3"/>
<circle cx="1327.0" cy="510.0" r="4.3"/>
<circle cx="1333.2" cy="511.2" r="4.3"/>
<circle cx="1367.0" cy="510.0" r="4.3"/>
<circle cx="1373.2" cy="510.0" r="4.3"/>
<circle cx="1380.8" cy="511.2" r="4.3"/>
<circle cx="1360.8" cy="513.8" r="4.3"/>
<circle cx="1322.0" cy="517.5" r="4.3"/>
<circle cx="1329.5" cy="517.5" r="4.3"/>
<circle cx="1337.0" cy="517.5" r="4.3"/>
<circle cx="1342.0" cy="521.2" r="4.3"/>
<circle cx="1357.0" cy="518.8" r="4.3"/>
<circle cx="1364.5" cy="517.5" r="4.3"/>
<circle cx="1372.0" cy="517.5" r="4.3"/>
<circle cx="1379.5" cy="517.5" r="4.3"/>
<circle cx="1382.0" cy="522.5" r="4.3"/>
<circle cx="1312.0" cy="521.2" r="4.3"/>
<circle cx="1318.2" cy="525.0" r="4.3"/>
<circle cx="1327.0" cy="523.8" r="4.3"/>
<circle cx="1334.5" cy="525.0" r="4.3"/>
<circle cx="1342.0" cy="527.5" r="4.3"/>
<circle cx="1352.0" cy="525.0" r="4.3"/>
<circle cx="1359.5" cy="525.0" r="4.3"/>
<circle cx="1367.0" cy="523.8" r="4.3"/>
<circle cx="1374.5" cy="525.0" r="4.3"/>
<circle cx="1382.6" cy="530.0" r="4.3"/>
<circle cx="1310.8" cy="528.8" r="4.3"/>
<circle cx="1317.0" cy="532.5" r="4.3"/>
<circle cx="1324.5" cy="530.0" r="4.3"/>
<circle cx="1339.5" cy="532.5" r="4.3"/>
<circle cx="1350.8" cy="531.2" r="4.3"/>
<circle cx="1358.2" cy="532.5" r="4.3"/>
<circle cx="1373.2" cy="531.2" r="4.3"/>
<circle cx="1379.5" cy="535.0" r="4.3"/>
<circle cx="1313.2" cy="536.2" r="4.3"/>
<circle cx="1320.8" cy="538.8" r="4.3"/>
<circle cx="1327.0" cy="537.5" r="4.3"/>
<circle cx="1333.2" cy="540.0" r="4.3"/>
<circle cx="1343.2" cy="541.2" r="4.3"/>
<circle cx="1350.8" cy="537.5" r="4.3"/>
<circle cx="1359.5" cy="538.8" r="4.3"/>
<circle cx="1367.0" cy="537.5" r="4.3"/>
<circle cx="1374.5" cy="540.0" r="4.3"/>
<circle cx="1323.2" cy="491.2" r="4.3"/>
<circle cx="1333.2" cy="497.5" r="4.3"/>
<circle cx="1338.2" cy="487.5" r="4.3"/>
<circle cx="1355.8" cy="487.5" r="4.3"/>
<circle cx="1362.0" cy="495.0" r="4.3"/>
<circle cx="1364.5" cy="502.5" r="4.3"/>
<circle cx="1334.5" cy="507.5" r="4.3"/>
<circle cx="1352.0" cy="515.0" r="4.3"/>
<circle cx="1359.5" cy="508.8" r="4.3"/>
<circle cx="1315.8" cy="517.5" r="4.3"/>
<circle cx="1329.5" cy="503.8" r="4.3"/>
<circle cx="1367.0" cy="496.2" r="4.3"/>
<circle cx="1377.0" cy="491.2" r="4.3"/>
<circle cx="1375.8" cy="510.0" r="4.3"/>
<circle cx="1328.2" cy="530.0" r="4.3"/>
<circle cx="1377.0" cy="527.5" r="4.3"/>
<circle cx="1369.5" cy="532.5" r="4.3"/>
<circle cx="1319.5" cy="513.8" r="4.3"/>
<circle cx="1347.0" cy="530.0" r="4.3"/>
<circle cx="1314.5" cy="547.5" r="4.3"/>
<circle cx="1322.0" cy="547.5" r="4.3"/>
<circle cx="1328.2" cy="550.0" r="4.3"/>
<circle cx="1313.2" cy="554.4" r="4.3"/>
<circle cx="1322.0" cy="557.5" r="4.3"/>
<circle cx="1333.2" cy="555.0" r="4.3"/>
<circle cx="1339.5" cy="552.5" r="4.3"/>
<circle cx="1347.0" cy="548.8" r="4.3"/>
<circle cx="1359.5" cy="547.5" r="4.3"/>
<circle cx="1365.8" cy="551.2" r="4.3"/>
<circle cx="1376.4" cy="546.9" r="4.3"/>
<circle cx="1369.5" cy="553.8" r="4.3"/>
<circle cx="1367.0" cy="557.5" r="4.3"/>
<circle cx="1344.5" cy="557.5" r="4.3"/>
<circle cx="1339.5" cy="565.0" r="4.3"/>
<circle cx="1329.5" cy="562.5" r="4.3"/>
<circle cx="1325.8" cy="567.5" r="4.3"/>
<circle cx="1360.8" cy="561.9" r="4.3"/>
<circle cx="1351.8" cy="566.9" r="4.3"/>
<circle cx="1360.1" cy="568.1" r="4.3"/>
<circle cx="1323.9" cy="573.1" r="4.3"/>
<circle cx="1330.1" cy="575.6" r="4.3"/>
<circle cx="1328.9" cy="581.9" r="4.3"/>
<circle cx="1344.5" cy="575.6" r="4.3"/>
<circle cx="1340.8" cy="580.0" r="4.3"/>
<circle cx="1348.2" cy="580.0" r="4.3"/>
<circle cx="1345.1" cy="584.4" r="4.3"/>
<circle cx="1347.0" cy="587.5" r="4.3"/>
<circle cx="1357.6" cy="578.1" r="4.3"/>
<circle cx="1355.8" cy="586.9" r="4.3"/>
<circle cx="1340.1" cy="595.6" r="4.3"/>
<circle cx="1329.5" cy="599.4" r="4.3"/>
<circle cx="1322.0" cy="603.5" r="4.3"/>
<circle cx="1337.0" cy="601.2" r="4.3"/>
<circle cx="1342.0" cy="601.2" r="4.3"/>
<circle cx="1339.5" cy="606.2" r="4.3"/>
<circle cx="1334.5" cy="610.0" r="4.3"/>
<circle cx="1342.0" cy="610.0" r="4.3"/>
<circle cx="1365.1" cy="601.0" r="4.3"/>
<circle cx="1363.2" cy="606.2" r="4.3"/>
<circle cx="1351.8" cy="607.5" r="4.3"/>
<circle cx="1349.8" cy="613.8" r="4.3"/>
<circle cx="1346.4" cy="621.0" r="4.3"/>
<circle cx="1352.2" cy="629.4" r="4.3"/>
<circle cx="1344.5" cy="635.2" r="4.3"/>
<circle cx="1339.2" cy="642.1" r="4.3"/>
<circle cx="1353.5" cy="689.8" r="4.3"/>
<circle cx="1341.5" cy="699.5" r="4.3"/>
<circle cx="1350.8" cy="699.8" r="4.3"/>
<circle cx="1337.0" cy="558.8" r="4.3"/>
<circle cx="1343.2" cy="561.2" r="4.3"/>
<circle cx="1327.0" cy="556.2" r="4.3"/>
<circle cx="1317.0" cy="550.0" r="4.3"/>
<circle cx="1363.2" cy="548.8" r="4.3"/>
<circle cx="1364.5" cy="555.0" r="4.3"/>
<circle cx="1321.7" cy="542.2" r="4.3"/>
<circle cx="1327.3" cy="544.1" r="4.3"/>
<circle cx="1316.1" cy="543.1" r="4.3"/>
<circle cx="1366.7" cy="538.4" r="4.3"/>
<circle cx="1382.6" cy="533.8" r="4.3"/>
<circle cx="1312.7" cy="495.0" r="4.3"/>
<circle cx="1319.1" cy="495.5" r="4.3"/>
<circle cx="1324.4" cy="495.1" r="4.3"/>
<circle cx="1330.6" cy="494.6" r="4.3"/>
<circle cx="1337.4" cy="495.0" r="4.3"/>
<circle cx="1343.1" cy="495.4" r="4.3"/>
<circle cx="1349.7" cy="494.9" r="4.3"/>
<circle cx="1355.2" cy="495.0" r="4.3"/>
<circle cx="1361.0" cy="495.3" r="4.3"/>
<circle cx="1366.9" cy="495.1" r="4.3"/>
<circle cx="1373.0" cy="495.7" r="4.3"/>
<circle cx="1379.3" cy="495.6" r="4.3"/>
<circle cx="1316.7" cy="499.8" r="4.3"/>
<circle cx="1322.1" cy="500.9" r="4.3"/>
<circle cx="1328.5" cy="499.6" r="4.3"/>
<circle cx="1333.4" cy="500.1" r="4.3"/>
<circle cx="1339.3" cy="499.8" r="4.3"/>
<circle cx="1345.3" cy="500.5" r="4.3"/>
<circle cx="1352.5" cy="500.8" r="4.3"/>
<circle cx="1357.4" cy="500.5" r="4.3"/>
<circle cx="1364.3" cy="499.6" r="4.3"/>
<circle cx="1370.6" cy="500.9" r="4.3"/>
<circle cx="1375.6" cy="500.9" r="4.3"/>
<circle cx="1381.8" cy="500.2" r="4.3"/>
<circle cx="1313.8" cy="505.9" r="4.3"/>
<circle cx="1318.5" cy="505.3" r="4.3"/>
<circle cx="1325.0" cy="505.1" r="4.3"/>
<circle cx="1330.5" cy="505.1" r="4.3"/>
<circle cx="1337.4" cy="504.6" r="4.3"/>
<circle cx="1343.1" cy="505.3" r="4.3"/>
<circle cx="1348.2" cy="505.1" r="4.3"/>
<circle cx="1355.2" cy="505.4" r="4.3"/>
<circle cx="1360.3" cy="506.2" r="4.3"/>
<circle cx="1367.5" cy="506.1" r="4.3"/>
<circle cx="1372.4" cy="505.0" r="4.3"/>
<circle cx="1378.3" cy="505.8" r="4.3"/>
<circle cx="1315.6" cy="510.0" r="4.3"/>
<circle cx="1321.9" cy="511.2" r="4.3"/>
<circle cx="1328.5" cy="510.2" r="4.3"/>
<circle cx="1333.4" cy="511.3" r="4.3"/>
<circle cx="1340.1" cy="510.9" r="4.3"/>
<circle cx="1345.3" cy="509.9" r="4.3"/>
<circle cx="1352.3" cy="510.5" r="4.3"/>
<circle cx="1357.3" cy="511.3" r="4.3"/>
<circle cx="1364.2" cy="511.1" r="4.3"/>
<circle cx="1369.3" cy="511.2" r="4.3"/>
<circle cx="1375.3" cy="511.2" r="4.3"/>
<circle cx="1381.9" cy="510.3" r="4.3"/>
<circle cx="1325.0" cy="515.4" r="4.3"/>
<circle cx="1330.4" cy="515.2" r="4.3"/>
<circle cx="1336.3" cy="515.3" r="4.3"/>
<circle cx="1342.7" cy="515.5" r="4.3"/>
<circle cx="1349.4" cy="515.4" r="4.3"/>
<circle cx="1355.0" cy="515.3" r="4.3"/>
<circle cx="1360.8" cy="515.0" r="4.3"/>
<circle cx="1366.6" cy="515.0" r="4.3"/>
<circle cx="1373.4" cy="515.9" r="4.3"/>
<circle cx="1378.5" cy="515.7" r="4.3"/>
<circle cx="1322.5" cy="520.9" r="4.3"/>
<circle cx="1328.0" cy="521.5" r="4.3"/>
<circle cx="1333.8" cy="521.0" r="4.3"/>
<circle cx="1340.3" cy="521.8" r="4.3"/>
<circle cx="1345.7" cy="521.5" r="4.3"/>
<circle cx="1352.3" cy="521.2" r="4.3"/>
<circle cx="1357.8" cy="520.7" r="4.3"/>
<circle cx="1363.3" cy="520.4" r="4.3"/>
<circle cx="1369.3" cy="521.4" r="4.3"/>
<circle cx="1375.6" cy="520.4" r="4.3"/>
<circle cx="1381.3" cy="521.5" r="4.3"/>
<circle cx="1313.6" cy="526.4" r="4.3"/>
<circle cx="1318.7" cy="525.8" r="4.3"/>
<circle cx="1324.7" cy="526.1" r="4.3"/>
<circle cx="1330.5" cy="526.1" r="4.3"/>
<circle cx="1336.6" cy="526.9" r="4.3"/>
<circle cx="1343.8" cy="526.3" r="4.3"/>
<circle cx="1348.6" cy="526.9" r="4.3"/>
<circle cx="1354.7" cy="525.9" r="4.3"/>
<circle cx="1360.2" cy="526.0" r="4.3"/>
<circle cx="1367.0" cy="526.2" r="4.3"/>
<circle cx="1372.5" cy="526.2" r="4.3"/>
<circle cx="1378.2" cy="525.8" r="4.3"/>
</g>
<line x1="100" x2="1596" y1="504.0" y2="504.0" stroke="#000" stroke-width="3.0" stroke-dasharray="13 12.89"/>
<path d="M330.7,573.2 L349.3,554.6 L367.90000000000003,573.2 L349.3,591.8000000000001 Z" fill="#000" stroke="#fff" stroke-width="3.1"/>
<path d="M829.4,519.6 L848,501.0 L866.6,519.6 L848,538.2 Z" fill="#000" stroke="#fff" stroke-width="3.1"/>
<path d="M1328.0,502.3 L1346.6,483.7 L1365.1999999999998,502.3 L1346.6,520.9 Z" fill="#000" stroke="#fff" stroke-width="3.1"/>
<g font-size="17.0" text-anchor="end">
<text x="98.3" y="13.40">200</text>
<text x="98.3" y="137.75">150</text>
<text x="98.3" y="262.10">100</text>
<text x="98.3" y="386.45">50</text>
<text x="98.3" y="510.80">0</text>
<text x="98.3" y="635.15">−50</text>
<text x="98.3" y="759.50">−100</text>
</g>
<g font-size="17.8" text-anchor="middle">
<text x="349.5" y="812.3" letter-spacing="0.02">Gemini 3 Pro</text>
<text x="848.3" y="812.3" letter-spacing="0.6">GPT-5.2</text>
<text x="1346.9" y="812.3" letter-spacing="-0.18">Claude Opus 4.5</text>
</g>
<text font-size="20.65" text-anchor="middle" transform="translate(23.6,390.2) rotate(-90)">Content Change (%)</text>
</svg></body></html>
